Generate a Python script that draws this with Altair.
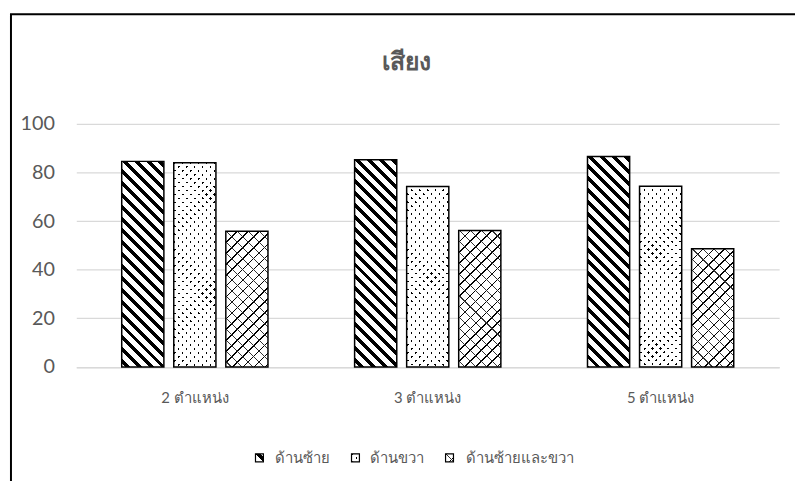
import math
import altair as alt
import pandas as pd

# ---------------- data ----------------
categories = ["2 ตำแหน่ง", "3 ตำแหน่ง", "5 ตำแหน่ง"]
series = ["ด้านซ้าย", "ด้านขวา", "ด้านซ้ายและขวา"]
values_left = [84.6, 85.3, 86.6]
values_right = [84.0, 74.3, 74.4]
values_both = [55.9, 56.2, 48.7]
y_ticks = [0, 20, 40, 60, 80, 100]
title_text = "เสียง"

series_values = [values_left, values_right, values_both]
rows = []
for i, c in enumerate(categories):
    for s, vals in zip(series, series_values):
        rows.append({"category": c, "series": s, "value": vals[i]})
df = pd.DataFrame(rows)
legend_df = pd.DataFrame({"series": series})
frame_df = pd.DataFrame({"k": [0]})

# ---------------- layout / style ----------------
W, H = 710, 245.6
PAD = {"left": 69, "top": 114.7, "right": 16, "bottom": 112.7}
FONT = "Lato"
TEXT = "#595959"
GRID = "#d9d9d9"
CLEAR = "rgba(255,255,255,0)"

x_pi, x_po = 0.372, 0.195
off_pi = 0.19
step = W / (len(categories) - x_pi + 2 * x_po)
band = step * (1 - x_pi)
off_step = band / (len(series) - off_pi)
bar_w = off_step * (1 - off_pi)


def stripes(w, h, direction, period, width, fg, bg):
    """Linear gradient that draws 45-degree stripes on a w x h box."""
    span = w + h
    k = span / (w * w + h * h)
    if direction == "\\":
        smin = -h
        p1 = (0.0, 1.0)
        p2 = (k * w, 1.0 - k * h)
    else:
        smin = 0.0
        p1 = (0.0, 0.0)
        p2 = (k * w, k * h)
    smax = smin + span
    stops = [(0.0, bg)]
    n = math.floor(smin / period) - 1
    while n * period <= smax:
        a = (n * period - smin) / span
        b = (n * period + width - smin) / span
        if b > 0 and a < 1:
            a = max(a, 0.0)
            b = min(b, 1.0)
            stops += [(a, bg), (a, fg), (b, fg), (b, bg)]
        n += 1
    stops.append((1.0, bg))
    return alt.LinearGradient(
        gradient="linear",
        x1=p1[0], y1=p1[1], x2=p2[0], y2=p2[1],
        stops=[alt.GradientStop(offset=round(o, 5), color=c) for o, c in stops],
    )


def pattern_fills(kind, w, h):
    if kind == 0:
        return [stripes(w, h, "\\", 12, 5, "black", "white")]
    if kind == 1:
        return [
            "black",
            stripes(w, h, "/", 8, 2.2, CLEAR, "white"),
            stripes(w, h, "\\", 8, 2.2, CLEAR, "white"),
        ]
    return [
        "white",
        stripes(w, h, "/", 11, 1.6, "black", CLEAR),
        stripes(w, h, "\\", 11, 1.1, "#333333", CLEAR),
    ]


x_enc = alt.X(
    "category:N",
    sort=categories,
    title=None,
    scale=alt.Scale(domain=categories, paddingInner=x_pi, paddingOuter=x_po),
    axis=alt.Axis(
        labelAngle=0, ticks=False, grid=False, domainColor=GRID, domainWidth=1.3,
        labelFont=FONT, labelFontSize=15, labelColor=TEXT, labelPadding=24,
    ),
)
xo_enc = alt.XOffset(
    "series:N", sort=series,
    scale=alt.Scale(domain=series, paddingInner=off_pi, paddingOuter=0),
)
y_enc = alt.Y(
    "value:Q",
    title=None,
    scale=alt.Scale(domain=[0, 100], nice=False),
    axis=alt.Axis(
        values=y_ticks, domain=False, ticks=False, grid=True, gridColor=GRID,
        gridWidth=1.3, labelFont=FONT, labelFontSize=20, labelColor=TEXT,
        labelPadding=22,
    ),
)

layers = []

# outer chart frame
layers.append(
    alt.Chart(frame_df).mark_rect(fill="white", fillOpacity=0, stroke="black", strokeWidth=2).encode(
        x=alt.value(-66), x2=alt.value(W + 300), y=alt.value(-110.7), y2=alt.value(H + 300)
    )
)

# bars
for j, s in enumerate(series):
    for i, c in enumerate(categories):
        v = series_values[j][i]
        h = v * H / 100.0
        fills = pattern_fills(j, bar_w, h)
        for idx, f in enumerate(fills):
            mk = {"fill": f}
            if idx == len(fills) - 1:
                mk.update(stroke="black", strokeWidth=1.5)
            layers.append(
                alt.Chart(df)
                .transform_filter((alt.datum.category == c) & (alt.datum.series == s))
                .mark_bar(**mk)
                .encode(x=x_enc, xOffset=xo_enc, y=y_enc)
            )

# legend
legend_sw_x = [181, 278, 373]
legend_txt_x = [201, 297, 394]
legend_y = 337.3
SW = 8
for j, s in enumerate(series):
    fills = pattern_fills(j, SW, SW)
    for idx, f in enumerate(fills):
        mk = {"fill": f}
        if idx == len(fills) - 1:
            mk.update(stroke="black", strokeWidth=1.2)
        layers.append(
            alt.Chart(legend_df)
            .transform_filter(alt.datum.series == s)
            .mark_rect(**mk)
            .encode(
                x=alt.value(legend_sw_x[j]), x2=alt.value(legend_sw_x[j] + SW),
                y=alt.value(legend_y - SW / 2), y2=alt.value(legend_y + SW / 2),
            )
        )
    layers.append(
        alt.Chart(legend_df)
        .transform_filter(alt.datum.series == s)
        .mark_text(align="left", baseline="middle", font=FONT, fontSize=15, color=TEXT)
        .encode(x=alt.value(legend_txt_x[j]), y=alt.value(legend_y), text="series:N")
    )

chart = (
    alt.layer(*layers)
    .properties(
        width=W,
        height=H,
        padding=PAD,
        autosize=alt.AutoSizeParams(type="none"),
        title=alt.TitleParams(
            text=title_text, font=FONT, fontSize=25, fontWeight="bold", color=TEXT,
            anchor="middle", dx=-21, offset=0, dy=62,
        ),
    )
    .configure_view(strokeWidth=0)
)

chart.save("out.html", embed_options={"renderer": "svg", "actions": False})
